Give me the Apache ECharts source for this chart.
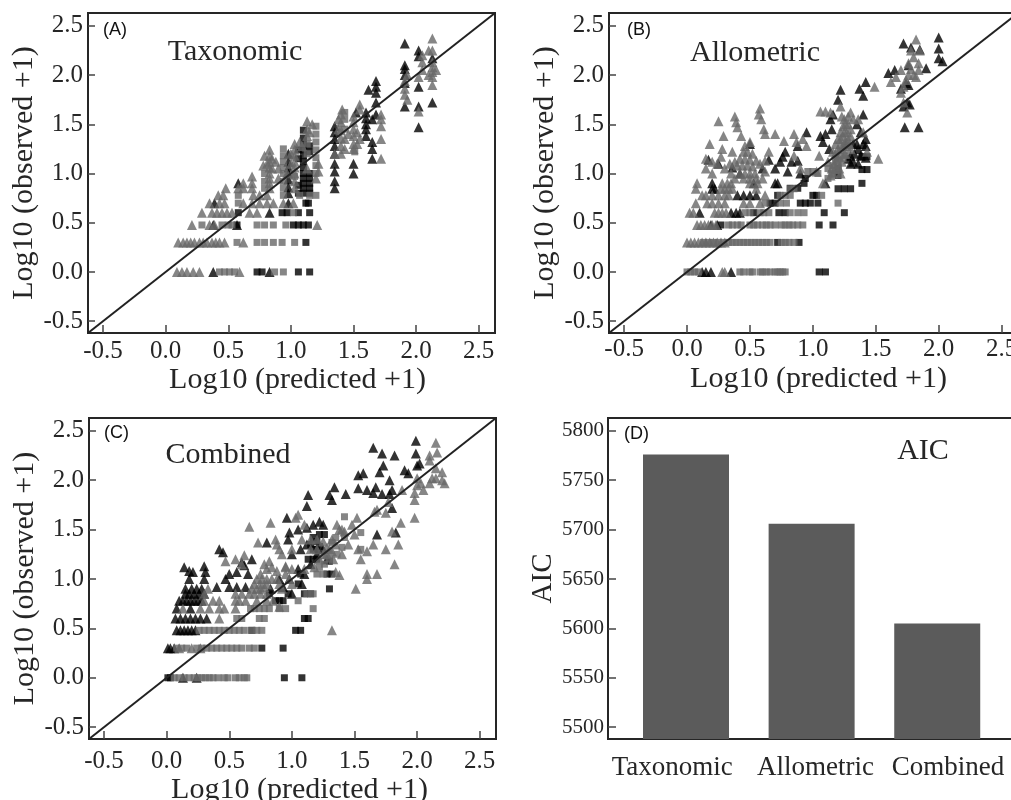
<!DOCTYPE html>
<html><head><meta charset="utf-8">
<script src="https://cdn.jsdelivr.net/npm/echarts@6/dist/echarts.min.js"></script>
<style>html,body{margin:0;padding:0;background:#fff;overflow:hidden}#c{width:1011px;height:800px;filter:blur(0.35px)}</style>
</head><body><div id="c"></div>
<script>
const tickValues = [-0.5, 0, 0.5, 1, 1.5, 2, 2.5];
const aicTicks = [5500, 5550, 5600, 5650, 5700, 5750, 5800];
const aicCategories = ['Taxonomic', 'Allometric', 'Combined'];
const aicValues = [5776, 5706, 5605];
const aicLabelAt = [-0.11, 1.03, 2.086];
const identityLine = [[-0.62, -0.62], [2.63, 2.63]];

const aGrayTri = [[.09,0],[.13,0],[.17,0],[.22,0],[.27,0],[.59,0],[.10,.3],[.14,.3],[.17,.3],[.2,.3],[.23,.3],[.27,.3],[.3,.3],[.33,.3],[.37,.3],[.4,.3],[.43,.3],[.47,.3],[.62,.3],
[.21,.477],[.35,.477],[.39,.477],[1.21,.477],[.29,.602],[.37,.602],[.41,.602],[.45,.602],[.49,.602],[.53,.602],[.67,.602],[.73,.602],[.35,.699],[.43,.699],[.47,.699],[.62,.699],[.69,.699],[.75,.699],[.81,.699],[.86,.699],[.94,.699],[1.02,.699],
[.42,.778],[.46,.778],[.7,.778],[.75,.778],[.81,.778],[.48,.85],[.58,.85],[.62,.85],[.69,.85],[.62,.9],[.69,.9],[.69,.97],
[.83,.85],[.83,.9],[.83,.95],[.83,1],[.83,1.06],[.83,1.12],[.83,1.18],[.83,1.24],[.81,1.1],[.85,1.05],[.85,1.15],
[1.03,.85],[1.03,.92],[1.03,1],[1.03,1.06],[1.03,1.12],[1.03,1.18],[1.03,1.24],[1.03,1.3],[1.07,1.32],[1.0,1.2],[1.0,1.1],[1.13,1.05],[1.13,1.38],[1.13,1.45],[1.13,1.53],[1.2,.95],[1.22,1.1],[1.22,1.02],
[1.4,1.2],[1.4,1.28],[1.4,1.36],[1.4,1.44],[1.4,1.52],[1.4,1.6],[1.41,1.65],[1.35,1.2],[1.5,1.25],[1.5,1.3],[1.5,1.38],[1.5,1.45],[1.5,1.52],[1.5,1.58],[1.53,1.3],[1.53,1.42],[1.55,1.65],[1.55,1.7],[1.72,1.15],[1.72,1.35],[1.72,1.48],[1.72,1.55],[1.72,1.6],
[1.91,1.8],[1.91,1.86],[1.91,1.94],[1.93,2],[1.93,1.75],[2.02,1.63],[2.02,1.98],[2.05,2.05],[2.05,2.13],[2.05,2.2],[2.13,1.9],[2.13,1.98],[2.13,2.03],[2.13,2.08],[2.13,2.13],[2.13,2.25],[2.13,2.37],[2.1,2.0],[2.1,2.25],[2.16,2.05],
[1.38,1.45],[1.38,1.55],[1.43,1.35],[1.43,1.25],[1.46,1.4],[1.55,1.35],[1.09,1.28],[1.15,1.42],[1.17,1.5],[.97,1.0],[.9,1.05],[.9,.95],[.88,1.12],[.78,1.08],[.79,1.18]];
const aGraySq = [[.43,0],[.47,0],[.51,0],[.55,0],[.87,0],[.94,0],[.57,.3],[.73,.3],[.79,.3],[.86,.3],[.93,.3],[1.03,.3],[.29,.477],[.45,.477],[.5,.477],[.53,.477],[.73,.477],[.79,.477],[.86,.477],[.96,.477],[1.02,.602],[.58,.699],[.58,.778],[.94,.778],[1.07,.778],[1.15,.778],[1.2,.778],
[.79,.85],[.79,.92],[.79,1],[.94,.85],[.94,.92],[.94,1],[.94,1.06],[.94,1.12],[.94,1.18],[.94,1.25],[1.03,.97],[1.2,1],[1.2,1.08],[1.2,1.16],[1.2,1.24],[1.2,1.32],[1.2,1.4],[1.2,1.48],[1.13,1.2],[1.13,1.3],[1.43,1.45],[1.43,1.55],[1.43,1.62],[1.51,1.22]];
const aBlackTri = [[.38,0],[.83,0],[.38,.477],[.57,.477],[.83,.602],[.39,.699],[.98,.699],[.98,.8],[.98,.86],[.98,.94],[.98,1],[.98,1.06],[.98,1.12],[.98,1.2],[.58,.9],
[1.35,.85],[1.35,.92],[1.35,1.02],[1.35,1.1],[1.35,1.2],[1.35,1.28],[1.35,1.35],[1.35,1.42],[1.35,1.48],[1.5,1.0],[1.5,1.1],[1.52,1.62],[1.6,1.45],[1.6,1.5],[1.6,1.56],[1.6,1.62],[1.62,1.85],[1.6,1.38],[1.65,1.15],[1.65,1.25],[1.65,1.32],[1.65,1.55],
[1.68,1.72],[1.68,1.82],[1.68,1.88],[1.68,1.94],[1.68,1.6],[1.91,1.68],[1.91,1.92],[1.91,2.0],[1.91,2.06],[1.91,2.1],[1.91,2.32],[2.02,1.47],[2.02,1.68],[2.02,1.88],[2.02,2.19],[2.02,2.25],[2.13,1.72],[2.13,2.17]];
const aBlackSq = [[.73,0],[.77,0],[1.06,0],[1.15,0],[1.12,.3],[.57,.477],[1.02,.477],[1.06,.477],[1.1,.477],[1.14,.477],[.58,.602],[.93,.602],[.97,.602],[1.06,.602],[1.15,.602],[1.14,.699],[1.12,.699],
[1.1,.8],[1.1,.85],[1.1,.9],[1.1,.95],[1.1,1],[1.1,1.06],[1.1,1.12],[1.1,1.18],[1.1,1.24],[1.1,1.3],[1.1,1.36],[1.1,1.44],[1.15,.8],[1.15,.85],[1.15,.9],[1.15,.95],[1.15,1],[1.06,.8],[1.06,.88],[1.06,1.15],[1.06,1.24],[1.15,1.22],[1.15,1.28]];

const bGrayTri = [[0,.3],[.03,.3],[.06,.3],[.09,.3],[.12,.3],[.15,.3],[.18,.3],[.21,.3],[.24,.3],[.27,.3],[.3,.3],[.28,0],[.3,0],[.08,.477],[.11,.477],[.14,.477],[.17,.477],[.2,.477],[.23,.477],[.02,.602],[.05,.602],[.22,.602],[.25,.602],[.28,.602],[.31,.602],[.07,.699],[.16,.699],[.2,.699],[.25,.699],[.3,.699],[.45,.699],[.5,.699],[.58,.699],[.12,.778],[.15,.778],[.2,.778],[.25,.778],[.3,.778],[.33,.778],[.62,.778],[.07,.845],[.27,.845],[.3,.845],[.33,.845],[.36,.845],[.55,.845],[.08,.9],[.28,.9],[.32,.9],[.5,.9],[.56,.9],
[.25,1.53],[.38,1.58],[.39,1.52],[.4,1.47],[.58,1.66],[.57,1.6],[.59,1.55],[.61,1.45],[.62,1.4],[.29,1.38],[.43,1.38],[.7,1.4],[.77,1.33],[.85,1.4],[.87,1.32],[.18,1.3],[.28,1.25],[.36,1.22],[.15,1.15],[.2,1.12],[.24,1.1],[.27,1.17],[.65,1.22],[.5,1.32],[.46,1.28],[.45,1.22],[.48,1.22],[.52,1.2],[.42,1.15],[.46,1.15],[.5,1.14],[.55,1.13],[.4,1.08],[.44,1.08],[.48,1.08],[.52,1.07],[.58,1.1],[.62,1.13],[.42,1],[.46,1],[.5,1],[.54,1],[.45,.95],[.5,.95],[.55,.95],[.62,1.02],[.85,1.18],[.92,1.35],[.95,1.28],[.9,1.05],[1.05,1.18],[1.03,1.02],[1.08,.9],
[1.06,1.63],[1.1,1.63],[1.14,1.62],[1.22,1.68],[1.3,1.62],[1.32,1.55],[1.3,1.45],[1.4,1.42],[1.36,1.55],[1.18,1.3],[1.16,1.22],[1.2,1.18],[1.23,1.12],[1.26,1.2],[1.22,1.3],[1.24,1.38],[1.28,1.35],[1.3,1.25],[1.12,1.12],[1.15,1.05],[1.22,1.42],[1.26,1.5],[1.28,1.58],[1.52,1.15],[1.49,1.88],[1.43,1.22],
[1.62,1.93],[1.66,1.98],[1.7,2.05],[1.72,1.88],[1.74,1.95],[1.76,2.0],[1.78,2.06],[1.8,2.0],[1.82,1.98],[1.84,2.05],[1.76,2.12],[1.8,2.18],[1.84,2.12],[1.78,2.25],[1.82,2.36],[1.85,2.25],[1.7,1.82],[1.75,1.62],[1.72,1.72],
[1.18,1.2],[1.2,1.25],[1.22,1.35],[1.24,1.28],[1.25,1.42],[1.27,1.28],[1.27,1.42],[1.25,1.2],[1.2,1.35],[1.17,1.1],[1.21,1.05],[1.16,1.0],[1.24,1.48],[1.28,1.5],[1.3,1.38],[1.29,1.3],[1.25,1.55],[1.23,1.58],[1.19,1.14],[1.14,.98],[1.22,1.0],[1.26,1.33],
[.38,1.12],[.34,1.1],[.35,1.0],[.38,.95],[.6,.95],[.2,1.0],[.35,.9],[.15,1.05],[.3,1.05]];
const bGraySq = [[0,0],[.03,0],[.06,0],[.09,0],[.42,0],[.45,0],[.5,0],[.52,0],[.58,0],[.6,0],[.63,0],[.66,0],[.7,0],[.72,0],[.74,0],[.76,0],[.78,0],
[.13,.3],[.17,.3],[.21,.3],[.25,.3],[.29,.3],[.33,.3],[.36,.3],[.39,.3],[.42,.3],[.45,.3],[.48,.3],[.51,.3],[.54,.3],[.57,.3],[.6,.3],[.63,.3],[.66,.3],[.75,.3],[.78,.3],[.81,.3],[.85,.3],
[.33,.477],[.36,.477],[.4,.477],[.43,.477],[.5,.477],[.53,.477],[.56,.477],[.6,.477],[.63,.477],[.66,.477],[.7,.477],[.75,.477],[.78,.477],[.81,.477],[.84,.477],[.88,.477],[.92,.477],
[.46,.602],[.5,.602],[.58,.602],[.61,.602],[.65,.602],[.82,.602],[.88,.602],[.93,.602],[.62,.699],[.74,.699],[.79,.699],[1.2,.699],[.74,.778],[.78,.778],[.82,.778],[1.07,.778],[.82,.845],[.85,.845],[.96,1.02],[1.0,1.02],[1.04,1.0],[1.12,.95],[1.15,1.0],[1.18,1.03],[1.12,1.05],[1.16,1.08],[1.2,1.06],[1.2,1.13],[1.24,1.15],[1.22,1.22],[1.18,1.15]];
const bBlackTri = [[.12,0],[.15,0],[.19,0],[.35,0],[.19,.477],[.24,.477],[.1,.602],[.35,.602],[.39,.602],[.42,.602],[.2,.845],[.22,.845],[.2,.9],[.53,.9],[.4,.778],[.45,.778],[.5,.778],[.55,.778],[.7,.9],[.25,1.1],[.17,1.14],[.36,1.06],[.42,1.0],[.5,1.3],[.65,1.14],[.76,1.17],[.78,1.22],[.74,1.12],[.83,1.12],[.8,1.02],[.88,1.13],[.7,1.05],[.6,1.05],[.72,.9],[.9,1.0],[.88,1.28],[.95,1.42],
[1.08,1.32],[1.1,1.4],[1.15,1.45],[1.06,1.38],[1.13,1.25],[1.14,1.55],[1.16,1.6],[1.2,1.75],[1.22,1.85],[1.35,1.5],[1.4,1.6],[1.38,1.42],[1.42,1.35],[1.35,1.3],[1.3,1.18],[1.32,1.12],[1.26,1.3],[1.38,1.18],[1.42,1.16],[1.1,.9],[1.37,1.86],[1.4,1.79],[1.42,1.93],[1.6,2.02],[1.65,2.05],[1.7,1.86],[1.74,1.92],[1.76,1.9],[1.76,2.1],[1.78,2.28],[1.72,2.32],[1.85,2.26],[1.9,2.07],[1.75,1.72],[1.72,1.68],[1.77,1.7],[1.73,1.47],[1.84,1.47],[2.0,2.38],[2.0,2.27],[2.0,2.17],[2.03,2.14],
[1.33,1.2],[1.36,1.25],[1.3,1.1],[1.36,1.1],[1.28,1.15],[1.32,1.3],[1.42,1.28],[1.4,1.3]];
const bBlackSq = [[1.05,0],[1.1,0],[.72,.3],[.89,.3],[.27,.477],[1.05,.477],[1.16,.477],[.53,.602],[.73,.602],[.78,.602],[1.09,.602],[1.25,.602],[.66,.699],[.7,.699],[.9,.699],[.94,.699],[.98,.699],[1.04,.699],[.72,.778],[1.0,.778],[1.03,.778],[.82,.85],[1.2,.845],[1.25,.845],[1.3,.845],[1.39,.9],[1.39,1.04],[1.43,1.04],[1.39,1.17],[1.43,1.17],[.93,.9],[.94,.95],[.88,.85],[1.2,.98],[1.2,1.05]];

const cGrayTri = [[.27,.3],[.2,.3],[.1,.3],[.13,.7],[.27,.7],[.34,.7],[.42,.7],[.46,.7],[.55,.7],[.3,.78],[.37,.78],[.42,.78],[.55,.78],[.58,.78],[.63,.78],[.72,.78],[.8,.78],[.85,.78],[.55,.85],[.6,.85],[.7,.85],[.75,.85],[.8,.85],[.3,.85],[.33,.9],[.72,.9],[.75,.9],[.78,.92],[.8,.95],[.42,.6],[.75,.95],[.72,1],[.76,1],[.8,1],[.84,1],[.88,1],[.9,.95],[.92,.9],[.95,1.05],[.98,1],[1,.95],[1.0,1.1],[.95,1.12],[.8,1.1],[.84,1.12],[.78,1.15],[.82,1.18],[.88,1.08],[.6,1.15],[.47,1.18],[.55,1.2],[.62,1.24],[.66,1.53],[.73,1.37],[.95,1.13],[.92,1.25],[.87,1.4],[.83,1.57],[.9,1.3],[.88,1.35],[1.05,1.65],[1.03,1.62],[1.1,1.55],[1.0,1.3],[1.08,1.4],[1.15,1.4],[1.2,1.3],[1.25,1.25],[1.28,1.32],[1.32,1.4],[1.38,1.5],[1.42,1.48],[1.48,1.55],[1.52,1.62],[1.45,1.35],[1.5,1.45],[1.53,1.3],[1.55,1.2],[1.4,1.25],[1.33,1.2],[1.35,1.07],[1.38,1.04],[1.32,.48],
[1.51,.9],[1.6,1.0],[1.6,1.05],[1.68,1.05],[1.6,1.28],[1.65,1.35],[1.75,1.3],[1.82,1.15],[1.85,1.35],[1.8,1.48],[1.87,1.57],[1.66,1.68],[1.68,1.7],[1.75,1.67],[1.77,1.78],[1.88,1.9],[1.98,1.62],[1.98,1.8],[1.98,1.87],[2,1.95],[2,2.02],[2.03,1.97],[2.05,1.9],[2.1,1.97],[2.12,2.02],[2.15,2.02],[2.2,2.0],[2.22,1.97],[2.2,2.08],[2.15,2.12],[2.1,2.2],[2.1,2.25],[2.16,2.28],[2.15,2.38],
[1.15,1.3],[1.2,1.4],[1.25,1.38],[1.3,1.3],[1.28,1.25],[1.32,1.28],[1.35,1.35],[1.36,1.55],[1.4,1.5],[1.22,1.2],[1.18,1.12],[1.1,1.1],[.9,.72],[.75,1.05],[.7,.95],[.68,.9],[.66,.85]];
const cGraySq = [[.06,0],[.1,0],[.14,0],[.18,0],[.22,0],[.25,0],[.28,0],[.31,0],[.34,0],[.37,0],[.41,0],[.46,0],[.49,0],[.55,0],[.58,0],[.62,0],[.64,0],[.08,.3],[.12,.3],[.16,.3],[.24,.3],[.28,.3],[.32,.3],[.36,.3],[.4,.3],[.44,.3],[.48,.3],[.52,.3],[.56,.3],[.6,.3],[.66,.3],[.7,.3],[.26,.48],[.3,.48],[.34,.48],[.38,.48],[.42,.48],[.46,.48],[.5,.48],[.54,.48],[.58,.48],[.62,.48],[.68,.48],[.72,.48],[.76,.48],[.56,.6],[.6,.6],[.74,.6],[.78,.6],[.67,.7],[.7,.7],[.74,.7],[.78,.7],[.82,.7],[.9,.7],[.95,.7],[1.05,.78],[1.17,.7],[1.17,.85],[1.12,.85],[1.2,1.05],[1.25,1.05],[1.22,1.12],[1.26,1.15],[1.3,1.2],[1.36,1.25],[1.4,1.32],[1.42,1.42],[1.42,1.63],[1.55,1.47],[1.55,1.3],[1.32,1.37],[1.35,1.42]];
const cBlackTri = [[.13,0],[.24,0],[.01,.3],[.03,.3],[.06,.3],[.08,.48],[.11,.48],[.14,.48],[.17,.48],[.2,.48],[.23,.48],[.07,.6],[.11,.6],[.15,.6],[.19,.6],[.23,.6],[.27,.6],[.32,.6],[.08,.7],[.19,.7],[.1,.78],[.13,.78],[.16,.78],[.19,.78],[.22,.78],[.25,.78],[.28,.78],[.15,.85],[.18,.85],[.22,.85],[.26,.85],[.3,.85],[.15,.9],[.2,.9],[.24,.9],[.28,.9],[.4,.92],[.5,.92],[.56,.92],[.63,.92],[.18,1],[.3,1],[.31,1.07],[.14,1.12],[.18,1.08],[.21,1.07],[.3,1.13],[.47,1.0],[.5,1.05],[.56,1.07],[.65,1.05],[.62,1.14],[.6,1.17],[.68,1.2],[.42,1.3],[.45,1.27],[.83,.9],[.93,.92],[1.0,.85],[.9,1.0],[.98,1.0],[1.05,1.1],[1.08,.95],[1.1,1.05],[1.0,1.25],[.97,1.4],[.8,1.37],[.98,1.47],[.96,1.62],[1.05,1.5],[1.12,1.52],[1.17,1.55],[1.22,1.58],[1.25,1.55],[1.07,1.3],[1.12,1.35],[1.15,1.15],[1.2,1.25],[1.25,1.3],[1.28,1.2],[1.13,1.85],[1.12,1.74],[1.3,1.85],[1.32,1.8],[1.34,1.93],[1.43,1.86],[1.53,1.92],[1.53,2.05],[1.57,2.07],[1.65,2.33],[1.72,2.27],[1.82,2.25],[1.67,1.93],[1.7,2.08],[1.73,2.15],[1.72,1.86],[1.78,1.86],[1.8,1.9],[1.78,2.0],[1.9,2.1],[1.93,2.07],[1.65,1.87],[1.8,1.72],[1.6,1.9],[1.68,1.45],[1.83,1.47],[1.99,2.4],[1.99,2.27],[2.0,2.15],[2.02,2.17]];
const cBlackSq = [[.01,0],[.03,0],[.94,0],[1.08,0],[.76,.3],[.93,.3],[.68,.48],[1.03,.48],[1.07,.48],[1.1,.6],[1.13,.6],[.87,.78],[.93,.78],[1.1,.85],[1.15,.85],[.82,.85],[1.3,.9],[1.28,1.05],[1.32,1.05],[1.2,1.2],[1.2,1.3],[1.2,1.38],[1.17,1.42],[1.22,1.45],[1.26,1.45],[1.17,1.3],[1.3,1.18],[1.13,1.2],[1.17,1.2],[1.15,1.35],[1.22,1.33],[1.05,.95],[1.07,1.05],[.97,.85],[.9,.78]];

const SERIF = '"Liberation Serif","Times New Roman",serif';
const SANS = '"Liberation Sans",Arial,sans-serif';
const INK = '#262626', GRAY = '#686868';
const line2 = {show: true, onZero: false, lineStyle: {color: INK, width: 2}};

function xy(grid, labelMargin, xGap, yGap, pad) {
  return {
    x: { gridIndex: grid, type: 'value', min: -0.62, max: 2.63, splitLine: {show: false}, axisLine: line2,
      axisTick: {show: true, inside: true, length: 8, lineStyle: {color: '#444', width: 1.5}, customValues: tickValues},
      axisLabel: {fontFamily: SERIF, fontSize: 25, color: INK, margin: labelMargin, customValues: tickValues, formatter: v => v.toFixed(1)},
      name: 'Log10 (predicted +1)', nameLocation: 'middle', nameGap: xGap,
      nameTextStyle: {fontFamily: SERIF, fontSize: 30, color: INK, padding: [0, 0, 0, pad]} },
    y: { gridIndex: grid, type: 'value', min: -0.62, max: 2.63, splitLine: {show: false}, axisLine: line2,
      axisTick: {show: true, inside: true, length: 7, lineStyle: {color: '#444', width: 1.5}, customValues: tickValues},
      axisLabel: {fontFamily: SERIF, fontSize: 25, color: INK, margin: 5, customValues: tickValues, formatter: v => v.toFixed(1)},
      name: 'Log10 (observed +1)', nameLocation: 'middle', nameGap: yGap,
      nameTextStyle: {fontFamily: SERIF, fontSize: 30, color: INK} }
  };
}
const A = xy(0, 6, 30, 46, 12), B = xy(1, 4, 31, 35, 10), C = xy(2, 10, 33, 47, 14);

function panel(i, gt, gs, bt, bs) {
  const pts = (data, symbol, size, color) => ({type: 'scatter', xAxisIndex: i, yAxisIndex: i, data, symbol, symbolSize: size, itemStyle: {color}, silent: true});
  return [
    {type: 'line', xAxisIndex: i, yAxisIndex: i, data: identityLine, symbol: 'none', lineStyle: {color: '#222', width: 2}, silent: true},
    pts(bt, 'triangle', 10, '#000'), pts(bs, 'rect', 7, '#000'), pts(gt, 'triangle', 10, GRAY), pts(gs, 'rect', 7, GRAY)
  ];
}
const heading = (text, x, y) => ({text, left: x, top: y, textAlign: 'center', textVerticalAlign: 'middle', padding: 0,
  textStyle: {fontFamily: SERIF, fontSize: 30, fontWeight: 'normal', color: INK}});
const tag = (text, x, y) => ({text, left: x, top: y, textVerticalAlign: 'middle', padding: 0,
  textStyle: {fontFamily: SANS, fontSize: 18, fontWeight: 'normal', color: '#111'}});
const frame = (left, top, width, height) => ({left, top, width, height, show: true, borderColor: INK, borderWidth: 2, outerBoundsMode: 'none'});

const option = {
  animation: false, backgroundColor: '#fff',
  title: [heading('Taxonomic', 235, 52), tag('(A)', 103, 30), heading('Allometric', 755, 53), tag('(B)', 627, 30),
          heading('Combined', 228, 455), tag('(C)', 104, 433), heading('AIC', 923, 451), tag('(D)', 624, 434)],
  grid: [frame(88, 13, 407, 320), frame(609, 13, 409, 320), frame(89, 418, 407, 321), frame(608, 418, 410, 321)],
  xAxis: [A.x, B.x, C.x, {
    gridIndex: 3, type: 'value', min: -0.621, max: 2.643, splitLine: {show: false}, axisLine: line2, axisTick: {show: false},
    axisLabel: {fontFamily: SERIF, fontSize: 27, color: INK, margin: 15, customValues: aicLabelAt,
      formatter: v => aicCategories[aicLabelAt.indexOf(v)] || ''}
  }],
  yAxis: [A.y, B.y, C.y, {
    gridIndex: 3, type: 'value', min: 5488, max: 5813, splitLine: {show: false}, axisLine: line2,
    axisTick: {show: true, inside: true, length: 8, lineStyle: {color: '#444', width: 1.5}, customValues: aicTicks},
    axisLabel: {fontFamily: SERIF, fontSize: 21, color: INK, margin: 4, customValues: aicTicks, formatter: v => String(v)},
    name: 'AIC', nameLocation: 'middle', nameGap: 37, nameTextStyle: {fontFamily: SERIF, fontSize: 29, color: INK}
  }],
  series: [
    ...panel(0, aGrayTri, aGraySq, aBlackTri, aBlackSq),
    ...panel(1, bGrayTri, bGraySq, bBlackTri, bBlackSq),
    ...panel(2, cGrayTri, cGraySq, cBlackTri, cBlackSq),
    {type: 'bar', xAxisIndex: 3, yAxisIndex: 3, barWidth: 86, silent: true,
      data: aicValues.map((v, i) => [i, v]), itemStyle: {color: '#5b5b5b'}}
  ]
};
echarts.init(document.getElementById('c'), null, {renderer: 'canvas'}).setOption(option);
</script></body></html>
